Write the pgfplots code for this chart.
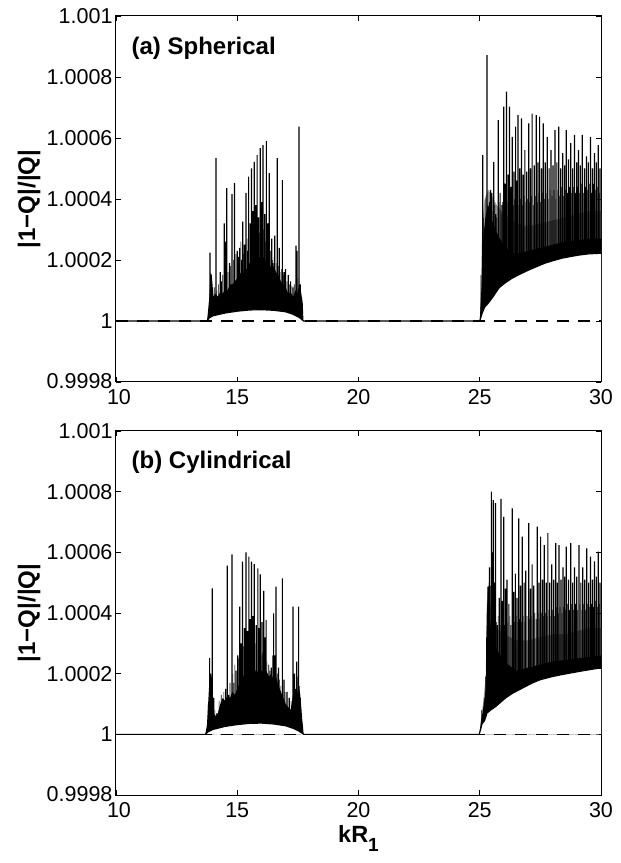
\documentclass[border=0pt]{standalone}
\usepackage{fontspec}
\setmainfont{Liberation Sans}
\usepackage{pgfplots}
\pgfplotsset{compat=1.18}

% y values are stored as (|1-Q|/|Q| - 1) x 10^4
\pgfplotsset{
  panel/.style={
    width=485pt, height=366pt, scale only axis,
    xmin=10, xmax=30, ymin=-2, ymax=10,
    xtick={10,15,20,25,30},
    xticklabels={\hspace*{6pt}10,15,20,25,30},
    ytick={-2,0,2,4,6,8,10},
    yticklabels={\raisebox{3pt}{0.9998},1,1.0002,1.0004,1.0006,1.0008,1.001},
    tick align=inside, major tick length=5pt,
    tick style={black, line width=0.8pt},
    axis line style={black, line width=1pt},
    ticklabel style={font=\fontsize{21.5}{25}\selectfont},
    xticklabel style={yshift=-4pt},
    ylabel={|1−Q|/|Q|},
    ylabel style={at={(axis description cs:-0.179,0.5)}, anchor=center,
      font=\fontsize{24}{28}\selectfont\bfseries},
  },
  band/.style={draw=none, fill=black},
  halo/.style={draw=none, fill=black!40},
  spike/.style={ybar, bar width=1.2pt, bar shift=0pt, fill=black, draw=none},
  thin spike/.style={ybar, bar width=0.6pt, bar shift=0pt, fill=black, draw=none},
  gap/.style={draw=none, fill=white},
  curve/.style={black, line width=1.1pt, mark=none},
  zero/.style={black, line width=1.2pt, dash pattern=on 12pt off 9pt},
}

\begin{document}
\begin{tikzpicture}
\path[use as bounding box] (0,0) rectangle (621pt,863pt);

% ---------------- (a) Spherical ----------------
\begin{axis}[panel, at={(116pt,481pt)}, anchor=south west]
% dense band, first window
\addplot[band] coordinates {(13.75,0) (13.85,0.1) (14.0,0.17) (14.5,0.26) (15.0,0.32) (15.5,0.36) (16.0,0.37) (16.5,0.35) (17.0,0.3) (17.3,0.22) (17.55,0.12) (17.73,0)
 (17.70,0.6) (17.62,1.0) (17.55,1.2) (17.48,0.9) (17.40,1.0) (17.30,0.8) (17.20,0.95) (17.10,0.9) (17.00,1.1) (16.90,1.2) (16.80,1.3) (16.70,1.5) (16.60,1.6) (16.50,1.8) (16.40,1.7) (16.30,2.0) (16.20,1.9) (16.10,2.1) (16.00,2.0) (15.90,2.1) (15.80,1.9) (15.70,2.0) (15.60,1.8) (15.50,1.9) (15.40,1.7) (15.30,1.7) (15.20,1.5) (15.10,1.6) (15.00,1.4) (14.90,1.3) (14.80,1.2) (14.70,1.2) (14.60,1.0) (14.50,1.05) (14.40,0.9) (14.30,0.95) (14.20,0.8) (14.10,0.9) (14.02,0.8) (13.95,1.5) (13.90,1.6) (13.85,0.8) (13.78,0.2)};
% dense band, second window
\addplot[halo] coordinates {(25.0,0) (25.1,0.25) (25.2,0.45) (25.37,0.6) (25.6,0.85) (25.79,1.08) (26.0,1.22) (26.33,1.4) (26.7,1.55) (27.02,1.67) (27.4,1.8) (27.71,1.9) (28.0,1.97) (28.4,2.06) (28.8,2.12) (29.09,2.16) (29.5,2.2) (30,2.22)
 (30,3.6) (29.5,3.6) (29.0,3.5) (28.5,3.4) (28.0,3.3) (27.5,3.2) (27.0,3.1) (26.5,3.2) (26.0,3.5) (25.7,3.8) (25.5,4.1) (25.35,4.3) (25.2,4.0) (25.1,3.2) (25.03,0.5)};
\addplot[band] coordinates {(25.0,0) (25.1,0.25) (25.2,0.45) (25.37,0.6) (25.6,0.85) (25.79,1.08) (26.0,1.22) (26.33,1.4) (26.7,1.55) (27.02,1.67) (27.4,1.8) (27.71,1.9) (28.0,1.97) (28.4,2.06) (28.8,2.12) (29.09,2.16) (29.5,2.2) (30,2.22)
 (30,2.7) (29.5,2.7) (29.0,2.65) (28.5,2.6) (28.0,2.5) (27.5,2.4) (27.0,2.3) (26.5,2.2) (26.2,2.3) (25.9,2.6) (25.7,2.9) (25.5,3.3) (25.35,3.8) (25.25,3.5) (25.15,2.8) (25.08,1.2) (25.02,0.3)};
% resonance spikes
\addplot[spike] coordinates {(13.88,2.24) (13.93,1.5) (14.12,5.34) (14.30,1.6) (14.46,3.2) (14.52,2.6) (14.57,4.36) (14.68,1.9) (14.78,4.16) (14.89,4.52) (15.00,2.3) (15.05,2.1) (15.10,2.4) (15.23,3.26) (15.30,2.5) (15.36,4.2) (15.47,4.73) (15.53,3.2) (15.59,5.0) (15.65,3.6) (15.70,5.22) (15.76,3.8) (15.82,5.44) (15.88,3.4) (15.95,5.67) (16.00,3.9) (16.06,5.77) (16.13,3.5) (16.20,5.9) (16.26,3.2) (16.32,4.85) (16.42,2.7) (16.48,1.9) (16.55,2.8) (16.65,5.34) (16.73,2.4) (16.86,4.62) (16.93,1.6) (16.99,1.7) (17.10,1.5) (17.20,1.3) (17.30,1.1) (17.42,2.47) (17.47,2.3) (17.55,6.37) (17.60,1.2)
 (25.12,5.44) (25.20,3.0) (25.30,8.72) (25.37,3.6) (25.44,4.3) (25.50,4.2) (25.58,5.22) (25.66,3.5) (25.76,6.59) (25.84,4.2) (25.92,3.8) (25.99,7.03) (26.05,4.5) (26.10,7.52) (26.17,4.8) (26.23,7.03) (26.28,4.4) (26.34,6.04) (26.41,4.9) (26.48,6.37) (26.53,4.6) (26.58,6.75) (26.65,5.0) (26.72,6.64) (26.79,4.8) (26.86,5.6) (26.94,4.9) (27.02,6.48) (27.09,5.0) (27.16,6.8) (27.25,5.1) (27.33,6.75) (27.40,5.2) (27.47,6.7) (27.55,5.0) (27.62,6.48) (27.70,5.2) (27.78,6.04) (27.86,5.0) (27.94,5.6) (28.02,5.1) (28.10,6.26) (28.18,5.2) (28.26,6.37) (28.34,5.0) (28.42,5.5) (28.50,5.1) (28.57,6.26) (28.66,5.3) (28.75,5.83) (28.83,5.0) (28.91,6.1) (29.00,5.2) (29.07,5.6) (29.15,5.1) (29.23,6.1) (29.32,5.0) (29.40,5.4) (29.48,5.2) (29.57,6.04) (29.65,5.0) (29.73,5.5) (29.81,5.2) (29.89,5.77) (29.96,5.0)};
\addplot[thin spike] coordinates {(14.05,1.1) (14.16,1.0) (14.22,1.2) (14.35,1.3) (14.40,1.5) (14.62,1.6) (14.73,1.8) (14.84,2.0) (14.95,2.2) (15.15,2.6) (15.18,2.0) (15.27,2.2) (15.41,2.7) (15.44,2.3) (15.56,2.8) (15.62,2.4) (15.73,2.9) (15.79,2.5) (15.85,2.7) (15.91,2.9) (15.98,2.6) (16.03,2.8) (16.09,3.0) (16.16,2.6) (16.23,2.9) (16.29,2.5) (16.36,2.3) (16.45,2.0) (16.52,2.1) (16.60,1.9) (16.69,1.8) (16.77,1.6) (16.82,1.7) (16.90,1.5) (17.05,1.3) (17.15,1.2) (17.25,1.15) (17.35,1.2) (17.50,1.4)
 (25.05,1.5) (25.15,3.4) (25.25,4.0) (25.33,3.8) (25.40,3.9) (25.47,3.7) (25.54,3.6) (25.62,3.8) (25.70,3.4) (25.80,3.9) (25.88,3.5) (25.95,3.9) (26.02,3.7) (26.13,3.9) (26.20,3.8) (26.26,3.7) (26.31,3.9) (26.38,3.8) (26.44,4.0) (26.51,3.7) (26.56,3.9) (26.62,3.8) (26.69,4.0) (26.76,3.8) (26.83,4.1) (26.90,3.9) (26.98,4.0) (27.06,3.9) (27.13,4.1) (27.21,3.8) (27.29,4.1) (27.37,3.9) (27.44,4.2) (27.51,3.9) (27.59,4.2) (27.66,4.0) (27.74,4.2) (27.82,4.0) (27.90,4.3) (27.98,4.1) (28.06,4.3) (28.14,4.0) (28.22,4.3) (28.30,4.1) (28.38,4.4) (28.46,4.1) (28.54,4.3) (28.62,4.2) (28.70,4.4) (28.79,4.2) (28.87,4.4) (28.95,4.2) (29.03,4.4) (29.11,4.2) (29.19,4.5) (29.27,4.2) (29.36,4.4) (29.44,4.3) (29.52,4.5) (29.61,4.2) (29.69,4.5) (29.77,4.3) (29.85,4.4) (29.93,4.2)};
% empty space under the lower envelope
\addplot[gap] coordinates {(13.75,0) (13.85,0.1) (14.0,0.17) (14.5,0.26) (15.0,0.32) (15.5,0.36) (16.0,0.37) (16.5,0.35) (17.0,0.3) (17.3,0.22) (17.55,0.12) (17.73,0)};
\addplot[gap] coordinates {(25.0,0) (25.1,0.25) (25.2,0.45) (25.37,0.6) (25.6,0.85) (25.79,1.08) (26.0,1.22) (26.33,1.4) (26.7,1.55) (27.02,1.67) (27.4,1.8) (27.71,1.9) (28.0,1.97) (28.4,2.06) (28.8,2.12) (29.09,2.16) (29.5,2.2) (30,2.22) (30,0)};
\addplot[zero] coordinates {(10,0) (30,0)};
\addplot[curve] coordinates {(10,0) (13.75,0) (13.85,0.1) (14.0,0.17) (14.5,0.26) (15.0,0.32) (15.5,0.36) (16.0,0.37) (16.5,0.35) (17.0,0.3) (17.3,0.22) (17.55,0.12) (17.73,0) (25.0,0) (25.1,0.25) (25.2,0.45) (25.37,0.6) (25.6,0.85) (25.79,1.08) (26.0,1.22) (26.33,1.4) (26.7,1.55) (27.02,1.67) (27.4,1.8) (27.71,1.9) (28.0,1.97) (28.4,2.06) (28.8,2.12) (29.09,2.16) (29.5,2.2) (30,2.22)};
\node[anchor=base west, font=\fontsize{24}{28}\selectfont\bfseries] at (axis description cs:0.025,0.896) {(a) Spherical};
\end{axis}

% ---------------- (b) Cylindrical ----------------
\begin{axis}[panel, at={(116pt,68pt)}, anchor=south west, height=364pt,
  xlabel={kR\raisebox{-9pt}{\fontsize{19}{19}\selectfont 1}},
  xlabel style={at={(axis description cs:0.5,0)}, anchor=base, yshift=-47pt,
    font=\fontsize{23.5}{26}\selectfont\bfseries}]
\addplot[band] coordinates {(13.68,0) (13.8,0.08) (14.0,0.16) (14.5,0.26) (15.0,0.32) (15.5,0.36) (16.0,0.37) (16.5,0.34) (17.0,0.28) (17.3,0.2) (17.55,0.1) (17.74,0)
 (17.68,0.5) (17.60,1.3) (17.52,1.6) (17.45,1.2) (17.38,0.9) (17.30,1.3) (17.20,0.8) (17.10,0.9) (17.00,1.0) (16.90,1.2) (16.80,1.4) (16.70,1.6) (16.60,1.9) (16.50,1.8) (16.40,2.0) (16.30,1.9) (16.20,2.1) (16.10,2.0) (16.00,2.1) (15.90,2.2) (15.80,2.0) (15.70,2.2) (15.60,2.0) (15.50,2.1) (15.40,1.9) (15.30,2.0) (15.20,1.8) (15.10,1.7) (15.00,1.5) (14.90,1.3) (14.80,1.4) (14.70,1.2) (14.60,1.3) (14.50,1.1) (14.40,1.2) (14.30,1.0) (14.20,0.7) (14.10,0.6) (14.03,0.7) (13.97,1.8) (13.90,2.0) (13.84,1.6) (13.75,0.3)};
\addplot[halo] coordinates {(24.98,0) (25.1,0.35) (25.2,0.45) (25.3,0.7) (25.45,0.8) (25.65,0.91) (25.85,1.05) (26.07,1.2) (26.35,1.35) (26.61,1.46) (26.9,1.58) (27.16,1.69) (27.5,1.8) (27.98,1.9) (28.4,1.97) (28.81,2.03) (29.3,2.1) (29.92,2.18) (30,2.18)
 (30,3.5) (29.5,3.5) (29.0,3.4) (28.5,3.3) (28.0,3.3) (27.5,3.2) (27.0,3.1) (26.5,3.1) (26.0,3.3) (25.7,3.5) (25.5,3.9) (25.42,4.4) (25.36,5.0) (25.30,4.5) (25.25,2.0) (25.15,1.1) (25.05,0.5)};
\addplot[band] coordinates {(24.98,0) (25.1,0.35) (25.2,0.45) (25.3,0.7) (25.45,0.8) (25.65,0.91) (25.85,1.05) (26.07,1.2) (26.35,1.35) (26.61,1.46) (26.9,1.58) (27.16,1.69) (27.5,1.8) (27.98,1.9) (28.4,1.97) (28.81,2.03) (29.3,2.1) (29.92,2.18) (30,2.18)
 (30,2.6) (29.5,2.55) (29.0,2.5) (28.5,2.45) (28.0,2.4) (27.5,2.3) (27.0,2.2) (26.5,2.1) (26.0,2.4) (25.7,2.8) (25.5,3.2) (25.42,3.8) (25.36,4.6) (25.30,4.2) (25.25,1.5) (25.15,0.9) (25.05,0.4)};
\addplot[spike] coordinates {(13.86,2.51) (13.90,2.0) (13.97,4.81) (14.03,1.2) (14.30,0.9) (14.40,0.9) (14.52,1.5) (14.59,5.56) (14.65,1.3) (14.78,5.93) (14.86,1.7) (14.95,2.1) (15.02,2.6) (15.10,4.21) (15.16,3.0) (15.22,5.69) (15.30,3.5) (15.36,6.0) (15.42,3.4) (15.48,5.86) (15.54,3.8) (15.59,5.69) (15.65,3.9) (15.70,5.61) (15.78,3.6) (15.85,5.47) (15.90,3.5) (15.95,5.27) (16.02,3.7) (16.09,4.73) (16.14,3.2) (16.19,3.77) (16.25,2.0) (16.40,2.2) (16.50,3.99) (16.55,2.6) (16.60,4.87) (16.70,2.2) (16.86,5.14) (16.93,1.8) (17.05,1.4) (17.15,1.2) (17.30,4.21) (17.36,2.0) (17.45,2.4) (17.53,4.21) (17.60,1.2)
 (25.34,4.87) (25.40,5.5) (25.48,8.0) (25.52,6.0) (25.56,7.72) (25.60,5.0) (25.65,7.62) (25.72,3.6) (25.80,4.5) (25.88,7.76) (25.93,4.4) (25.99,7.17) (26.06,4.8) (26.12,5.1) (26.20,4.3) (26.34,7.45) (26.40,4.7) (26.47,5.3) (26.54,4.5) (26.61,7.12) (26.68,4.9) (26.75,6.52) (26.83,5.0) (26.90,5.4) (27.02,6.96) (27.09,4.8) (27.16,5.6) (27.23,4.9) (27.37,6.85) (27.44,5.0) (27.51,6.52) (27.59,5.1) (27.66,6.24) (27.74,5.0) (27.81,6.63) (27.89,5.0) (27.97,5.6) (28.05,5.1) (28.13,6.3) (28.20,5.0) (28.27,6.24) (28.35,5.1) (28.43,5.5) (28.50,5.2) (28.57,6.19) (28.66,5.1) (28.75,6.3) (28.83,5.0) (28.91,5.5) (29.00,5.2) (29.09,6.24) (29.17,5.0) (29.25,5.5) (29.33,5.1) (29.41,6.13) (29.49,5.0) (29.57,5.86) (29.65,5.1) (29.73,5.7) (29.81,5.2) (29.89,6.02) (29.96,5.0)};
\addplot[thin spike] coordinates {(13.80,1.0) (14.08,0.8) (14.15,0.7) (14.25,1.1) (14.34,1.3) (14.45,1.4) (14.70,1.7) (14.82,2.0) (14.90,2.3) (15.06,2.5) (15.13,2.7) (15.19,2.4) (15.26,2.9) (15.33,2.6) (15.39,3.0) (15.45,2.7) (15.51,3.1) (15.57,2.8) (15.62,3.0) (15.68,2.7) (15.74,3.0) (15.81,2.8) (15.88,2.9) (15.98,2.6) (16.05,2.7) (16.12,2.5) (16.22,2.4) (16.30,2.3) (16.35,2.1) (16.45,2.6) (16.65,2.0) (16.75,1.8) (16.80,1.6) (16.97,1.4) (17.10,1.2) (17.22,1.1) (17.40,1.5) (17.49,1.9) (17.57,1.6)
 (25.08,0.8) (25.18,1.2) (25.24,1.9) (25.28,3.2) (25.31,4.0) (25.37,4.6) (25.44,4.9) (25.63,4.0) (25.68,3.7) (25.76,3.9) (25.84,3.6) (25.96,3.8) (26.02,3.6) (26.09,3.8) (26.16,3.7) (26.24,3.9) (26.29,3.6) (26.37,3.8) (26.44,3.7) (26.50,3.9) (26.57,3.7) (26.64,3.8) (26.71,3.7) (26.79,3.9) (26.86,3.7) (26.95,3.9) (27.06,3.8) (27.12,3.9) (27.20,3.8) (27.27,4.0) (27.33,3.8) (27.40,4.0) (27.48,3.8) (27.55,4.0) (27.62,3.9) (27.70,4.0) (27.78,3.9) (27.85,4.1) (27.93,3.9) (28.01,4.1) (28.09,3.9) (28.16,4.2) (28.24,4.0) (28.31,4.2) (28.39,4.0) (28.46,4.2) (28.54,4.1) (28.61,4.3) (28.70,4.1) (28.79,4.3) (28.87,4.1) (28.95,4.3) (29.04,4.1) (29.13,4.3) (29.21,4.1) (29.29,4.3) (29.37,4.1) (29.45,4.3) (29.53,4.2) (29.61,4.3) (29.69,4.2) (29.77,4.4) (29.85,4.2) (29.93,4.3)};
\addplot[gap] coordinates {(13.68,0) (13.8,0.08) (14.0,0.16) (14.5,0.26) (15.0,0.32) (15.5,0.36) (16.0,0.37) (16.5,0.34) (17.0,0.28) (17.3,0.2) (17.55,0.1) (17.74,0)};
\addplot[gap] coordinates {(24.98,0) (25.1,0.35) (25.2,0.45) (25.3,0.7) (25.45,0.8) (25.65,0.91) (25.85,1.05) (26.07,1.2) (26.35,1.35) (26.61,1.46) (26.9,1.58) (27.16,1.69) (27.5,1.8) (27.98,1.9) (28.4,1.97) (28.81,2.03) (29.3,2.1) (29.92,2.18) (30,2.18) (30,0)};
\addplot[zero] coordinates {(10,0) (30,0)};
\addplot[curve] coordinates {(10,0) (13.68,0) (13.8,0.08) (14.0,0.16) (14.5,0.26) (15.0,0.32) (15.5,0.36) (16.0,0.37) (16.5,0.34) (17.0,0.28) (17.3,0.2) (17.55,0.1) (17.74,0) (24.98,0) (25.1,0.35) (25.2,0.45) (25.3,0.7) (25.45,0.8) (25.65,0.91) (25.85,1.05) (26.07,1.2) (26.35,1.35) (26.61,1.46) (26.9,1.58) (27.16,1.69) (27.5,1.8) (27.98,1.9) (28.4,1.97) (28.81,2.03) (29.3,2.1) (29.92,2.18) (30,2.18)};
\node[anchor=base west, font=\fontsize{24}{28}\selectfont\bfseries] at (axis description cs:0.025,0.896) {(b) Cylindrical};
\end{axis}
\end{tikzpicture}
\end{document}
